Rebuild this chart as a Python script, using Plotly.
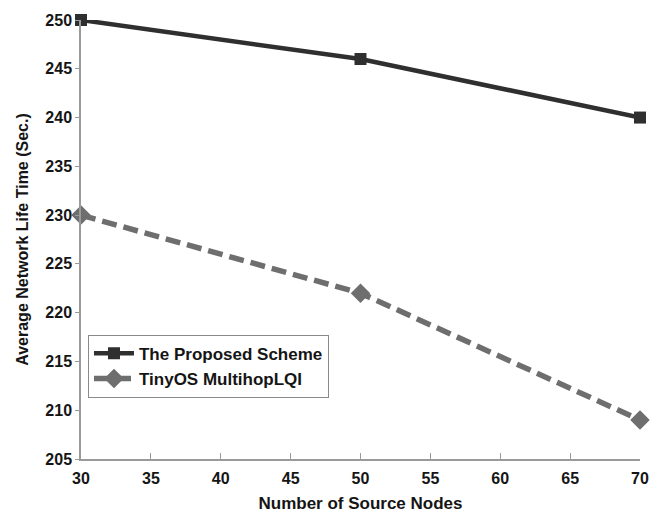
import plotly.graph_objects as go

x_nodes = [30, 50, 70]
proposed = [250, 246, 240]
tinyos = [230, 222, 209]
x_ticks = [30, 35, 40, 45, 50, 55, 60, 65, 70]
y_ticks = [205, 210, 215, 220, 225, 230, 235, 240, 245, 250]

FONT = "Liberation Sans, Arial, sans-serif"
font = dict(family=FONT, size=16, color="#151515")

fig = go.Figure()
fig.add_trace(go.Scatter(
    x=x_nodes, y=proposed, mode="lines+markers", name="<b>The Proposed Scheme</b>",
    line=dict(color="#2f2f2f", width=4.5),
    marker=dict(symbol="square", size=12, color="#2f2f2f"),
    cliponaxis=False))
fig.add_trace(go.Scatter(
    x=x_nodes, y=tinyos, mode="lines+markers", name="<b>TinyOS MultihopLQI</b>",
    line=dict(color="#6e6e6e", width=5.5, dash="15px,7px"),
    marker=dict(symbol="diamond", size=15, color="#6e6e6e"),
    cliponaxis=False))

# page body has an 8px margin; compensate so plot area lands at x 81-640, y 20-459
fig.update_layout(
    width=653, height=505,
    margin=dict(l=73, r=21, t=12, b=54),
    paper_bgcolor="white", plot_bgcolor="white",
    font=font,
    legend=dict(x=0.0125, y=0.283, xanchor="left", yanchor="top",
                bgcolor="white", bordercolor="#8a8a8a", borderwidth=1,
                font=dict(family=FONT, size=17, color="#151515"), tracegroupgap=0,
                itemwidth=40),
    xaxis=dict(range=[30, 70], tickvals=x_ticks, ticktext=[f"<b>{v}</b>" for v in x_ticks],
               showgrid=False, zeroline=False, showline=True, linecolor="#9a9a9a", linewidth=1.5,
               ticks="inside", ticklen=6, tickcolor="#9a9a9a", automargin=False,
               ticklabelstandoff=4,
               title=dict(text="<b>Number of Source Nodes</b>", standoff=13,
                          font=dict(family=FONT, size=17, color="#151515"))),
    yaxis=dict(range=[205, 250], tickvals=y_ticks, ticktext=[f"<b>{v}</b>" for v in y_ticks],
               showgrid=False, zeroline=False, showline=True, linecolor="#9a9a9a", linewidth=1.5,
               ticks="outside", ticklen=4, tickcolor="#9a9a9a", automargin=False,
               title=dict(text="<b>Average Network Life Time (Sec.)</b>", standoff=13,
                          font=dict(family=FONT, size=16, color="#151515"))),
)
fig.write_html("out.html")
